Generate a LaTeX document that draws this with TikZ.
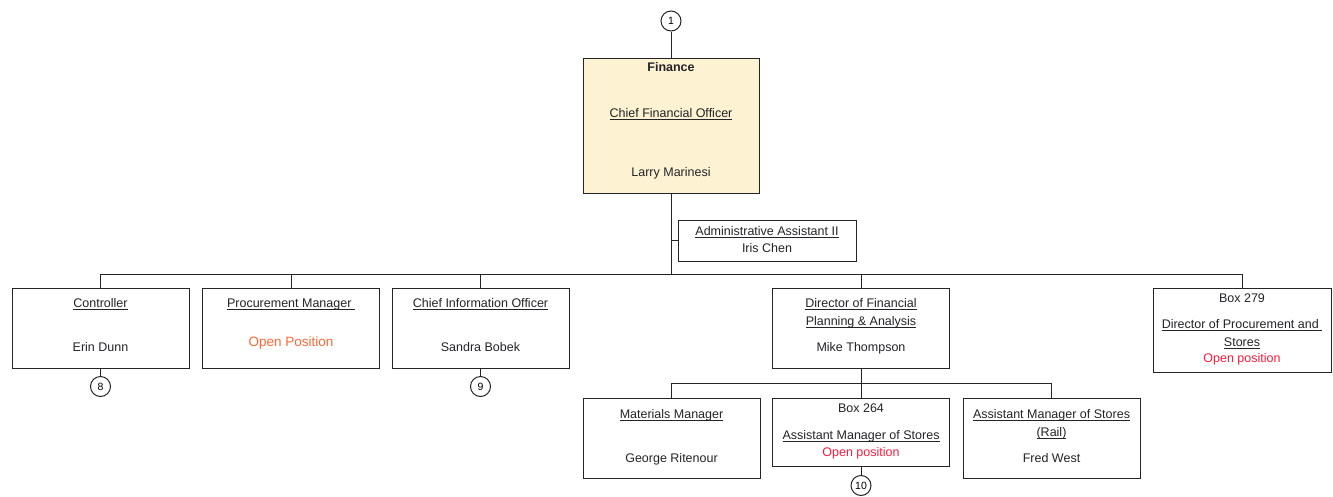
\documentclass[tikz,border=0pt]{standalone}
\usepackage{fontspec}
\setmainfont{Liberation Sans}
\usetikzlibrary{positioning}

\definecolor{cfofill}{RGB}{253,243,210}
\definecolor{openorange}{RGB}{255,102,51}
\definecolor{openred}{RGB}{255,25,60}
\definecolor{inkgray}{RGB}{35,35,40}

% underline set close to the baseline
\newcommand{\ulabel}[1]{\setbox0\hbox{#1}\rlap{\rule[-2.5pt]{\wd0}{0.8pt}}\box0}

\begin{document}
\begin{tikzpicture}[
  x=1pt, y=-1pt,
  box/.style={draw=inkgray, line width=1pt, minimum width=177pt, minimum height=80pt, inner sep=0pt},
  txt/.style={font=\fontsize{12.5}{15}\selectfont, text=inkgray, anchor=base, inner sep=0pt},
  opentxt/.style={txt, text=openred},
  conn/.style={draw=inkgray, line width=1pt},
  pagenum/.style={draw=inkgray, circle, line width=1pt, minimum size=20pt, inner sep=0pt, font=\fontsize{10.5}{12}\selectfont}
]
\useasboundingbox (0,0) rectangle (1333,496);

% Boxes
\node[box, fill=cfofill, minimum width=176pt, minimum height=135pt] (cfo) at (671,125.5) {};
\node[box, minimum width=178pt, minimum height=41pt] (admin) at (767,240.5) {};
\node[box] (ctrl) at (100.5,328) {};
\node[box] (proc) at (291,328) {};
\node[box] (cio) at (480.5,328) {};
\node[box] (fpa) at (861,328) {};
\node[box, minimum width=178pt, minimum height=84pt] (dps) at (1242,330) {};
\node[box] (matl) at (671.5,438.5) {};
\node[box, minimum height=68pt] (ams) at (861,432) {};
\node[box] (rail) at (1051.5,438.5) {};

% Page connectors
\node[pagenum] (pg1) at (671,21) {1};
\node[pagenum] (pg8) at (100.5,386.5) {8};
\node[pagenum] (pg9) at (480.5,386.5) {9};
\node[pagenum] (pg10) at (861,485.5) {10};

% Texts
\node[txt, font=\fontsize{12.5}{15}\selectfont\bfseries] (cfoA) at (671,71) {Finance};
\node[txt] (cfoB) at (671,117) {\ulabel{Chief Financial Officer}};
\node[txt] (cfoC) at (671,176) {Larry Marinesi};

\node[txt] (adminA) at (767,235) {\ulabel{Administrative Assistant II}};
\node[txt] (adminB) at (767,252.5) {Iris Chen};

\node[txt] (ctrlA) at (100.5,307.5) {\ulabel{Controller}};
\node[txt] (ctrlB) at (100.5,351) {Erin Dunn};

\node[txt] (procA) at (291,307.5) {\ulabel{Procurement Manager\ }};
\node[txt, text=openorange, font=\fontsize{13.5}{16}\selectfont] (procB) at (291,346.5) {Open Position};

\node[txt] (cioA) at (480.5,307.5) {\ulabel{Chief Information Officer}};
\node[txt] (cioB) at (480.5,351) {Sandra Bobek};

\node[txt] (fpaA) at (861,307.5) {\ulabel{Director of Financial}};
\node[txt] (fpaB) at (861,325) {\ulabel{Planning \& Analysis}};
\node[txt] (fpaC) at (861,351) {Mike Thompson};

\node[txt] (dpsA) at (1242,302.5) {Box 279};
\node[txt] (dpsB) at (1242,328) {\ulabel{Director of Procurement and\ }};
\node[txt] (dpsC) at (1242,346) {\ulabel{Stores}};
\node[opentxt] (dpsD) at (1242,362.5) {Open position};

\node[txt] (matlA) at (671.5,418.5) {\ulabel{Materials Manager}};
\node[txt] (matlB) at (671.5,462) {George Ritenour};

\node[txt] (amsA) at (861,412.5) {Box 264};
\node[txt] (amsB) at (861,439.5) {\ulabel{Assistant Manager of Stores}};
\node[opentxt] (amsC) at (861,456.5) {Open position};

\node[txt] (railA) at (1051.5,418.5) {\ulabel{Assistant Manager of Stores}};
\node[txt] (railB) at (1051.5,436.5) {\ulabel{(Rail)}};
\node[txt] (railC) at (1051.5,462) {Fred West};

% Connectors
\coordinate (bus) at (671,274.5);
\coordinate (subbus) at (861,383.5);

\draw[conn] (pg1) -- (cfo);
\draw[conn] (cfo) -- (bus);
\draw[conn] (admin.west) -- (cfo.south |- admin.west);
\draw[conn] (bus) -| (ctrl);
\draw[conn] (bus) -| (proc);
\draw[conn] (bus) -| (cio);
\draw[conn] (bus) -| (fpa);
\draw[conn] (bus) -| (dps);
\draw[conn] (ctrl) -- (pg8);
\draw[conn] (cio) -- (pg9);
\draw[conn] (fpa) -- (ams);
\draw[conn] (subbus) -| (matl);
\draw[conn] (subbus) -| (rail);
\draw[conn] (ams) -- (pg10);

\end{tikzpicture}
\end{document}
